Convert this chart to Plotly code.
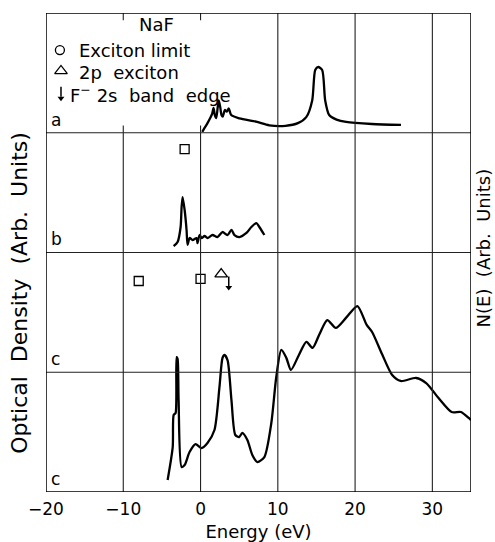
import plotly.graph_objects as go

# Spectrum a (top panel, baseline 3)
energy_a = [0.22, 0.52, 0.90, 1.25, 1.51, 1.68, 1.85, 2.03, 2.23, 2.36, 2.54, 2.71, 2.88, 3.14,
            3.39, 3.65, 3.96, 5.03, 7.19, 8.9, 11.0, 12.6, 13.68, 14.45, 14.84, 15.23, 15.74,
            16.13, 16.65, 17.6, 18.84, 22.19, 25.94]
od_a = [3.008, 3.04, 3.08, 3.123, 3.16, 3.207, 3.148, 3.123, 3.217, 3.27, 3.217, 3.148, 3.134,
        3.19, 3.176, 3.204, 3.148, 3.12, 3.092, 3.062, 3.058, 3.08, 3.13, 3.27, 3.524, 3.549,
        3.524, 3.27, 3.148, 3.11, 3.09, 3.073, 3.065]

# Spectrum b (second panel, baseline 2)
energy_b = [-3.48, -2.97, -2.58, -2.45, -2.32, -2.06, -1.81, -1.68, -1.42, -1.03, -0.52, -0.39,
            -0.13, 0.13, 0.52, 0.90, 1.55, 2.19, 2.84, 3.48, 4.0, 4.39, 5.03, 5.94, 6.58, 7.23,
            7.61, 8.26]
od_b = [2.054, 2.088, 2.213, 2.38, 2.463, 2.355, 2.188, 2.063, 2.121, 2.104, 2.121, 2.079,
        2.146, 2.121, 2.138, 2.121, 2.146, 2.129, 2.171, 2.146, 2.188, 2.146, 2.129, 2.163,
        2.213, 2.246, 2.213, 2.146]

# Spectrum c (lower two panels, continuous)
energy_c = [-4.26, -3.6, -3.48, -3.23, -3.1, -2.97, -2.84, -2.45, -2.06, -1.42, -0.65, 0.13,
            0.9, 1.8, 2.45, 2.84, 3.1, 3.5, 4.0, 4.5, 5.0, 5.4, 6.06, 6.7, 7.35, 8.26, 9.16,
            9.8, 10.45, 11.1, 11.7, 12.7, 13.7, 14.5, 15.4, 16.4, 17.5, 18.9, 20.3, 21.5, 22.2,
            23.5, 24.8, 25.9, 27.9, 29.2, 30.8, 32.5, 33.7, 34.7, 35.0]
ne_c = [0.10, 0.376, 0.643, 0.66, 1.127, 1.11, 0.768, 0.209, 0.225, 0.334, 0.40, 0.367,
        0.409, 0.518, 0.877, 1.119, 1.144, 1.10, 0.768, 0.476, 0.459, 0.493, 0.434, 0.309,
        0.25, 0.292, 0.576, 0.96, 1.186, 1.12, 1.019, 1.14, 1.253, 1.203, 1.32, 1.436, 1.37,
        1.46, 1.553, 1.395, 1.336, 1.15, 0.977, 0.927, 0.952, 0.91, 0.785, 0.668, 0.668,
        0.618, 0.60]

# Reference points
square_e = [-2.06, -8.0, 0.0]
square_y = [2.864, 1.762, 1.779]
triangle_e = [2.67]
triangle_y = [1.82]
arrow_e = [3.65]
arrow_top = [1.80]
arrow_tip = [1.69]

panel_labels = ["a", "b", "c", "c"]
panel_bases = [3, 2, 1, 0]
x_ticks = [-20, -10, 0, 10, 20, 30]

FONT = "DejaVu Sans"
INK = "black"
GRID = "#222222"

fig = go.Figure()

curve_style = dict(color=INK, width=2.3, shape="spline", smoothing=0.7)
fig.add_trace(go.Scatter(x=energy_a, y=od_a, mode="lines", line=curve_style))
fig.add_trace(go.Scatter(x=energy_b, y=od_b, mode="lines", line=curve_style))
fig.add_trace(go.Scatter(x=energy_c, y=ne_c, mode="lines", line=curve_style))

fig.add_trace(go.Scatter(x=square_e, y=square_y, mode="markers",
                         marker=dict(symbol="square-open", size=9, color=INK,
                                     line=dict(width=1.3, color=INK))))
fig.add_trace(go.Scatter(x=triangle_e, y=triangle_y, mode="markers",
                         marker=dict(symbol="triangle-up-open", size=11, color=INK,
                                     line=dict(width=1.3, color=INK))))


def down_arrow(x, y_top, y_tip):
    """Vertical stem with a filled head pointing down."""
    fig.add_trace(go.Scatter(x=[x, x], y=[y_top, y_tip + 0.03], mode="lines",
                             line=dict(color=INK, width=1.5)))
    fig.add_trace(go.Scatter(x=[x], y=[y_tip + 0.018], mode="markers",
                             marker=dict(symbol="triangle-down", size=6, color=INK)))


for e, top, tip in zip(arrow_e, arrow_top, arrow_tip):
    down_arrow(e, top, tip)

# Key in the top panel
fig.add_trace(go.Scatter(x=[-18.2], y=[3.69], mode="markers",
                         marker=dict(symbol="circle-open", size=9, color=INK,
                                     line=dict(width=1.3, color=INK))))
fig.add_trace(go.Scatter(x=[-18.06], y=[3.516], mode="markers",
                         marker=dict(symbol="triangle-up-open", size=11, color=INK,
                                     line=dict(width=1.3, color=INK))))
down_arrow(-18.06, 3.385, 3.27)

key_font = dict(family=FONT, size=18, color=INK)
fig.add_annotation(x=-5.68, y=3.90, text="NaF", showarrow=False, font=key_font,
                   xanchor="center", yanchor="middle")
fig.add_annotation(x=-16.0, y=3.69, text="Exciton limit", showarrow=False, font=key_font,
                   xanchor="left", yanchor="middle")
fig.add_annotation(x=-16.0, y=3.50, text="2p  exciton", showarrow=False, font=key_font,
                   xanchor="left", yanchor="middle")
fig.add_annotation(x=-17.16, y=3.32, text="F<sup>−</sup> 2s  band  edge", showarrow=False,
                   font=key_font, xanchor="left", yanchor="middle")

# Panel letters
for lab, base in zip(panel_labels, panel_bases):
    fig.add_annotation(x=-19.55, y=base + 0.01, text=lab, showarrow=False,
                       font=dict(family=FONT, size=17, color=INK),
                       xanchor="left", yanchor="bottom")

# Grid: panel dividers and vertical energy lines
shapes = []
for base in panel_bases[:-1]:
    shapes.append(dict(type="line", xref="x", yref="y", x0=-20, x1=35, y0=base, y1=base,
                       line=dict(color=GRID, width=1.2)))
for t in x_ticks[1:]:
    top = 4 if t >= 10 else 3
    shapes.append(dict(type="line", xref="x", yref="y", x0=t, x1=t, y0=0, y1=top,
                       line=dict(color=GRID, width=1.1)))
    if t < 10:
        shapes.append(dict(type="line", xref="x", yref="y", x0=t, x1=t, y0=3.94, y1=4,
                           line=dict(color=GRID, width=1.1)))
        shapes.append(dict(type="line", xref="x", yref="y", x0=t, x1=t, y0=3, y1=3.06,
                           line=dict(color=GRID, width=1.1)))
shapes.append(dict(type="rect", xref="x", yref="y", x0=-20, x1=35, y0=0, y1=4,
                   line=dict(color=INK, width=1.5)))

fig.update_layout(
    width=495, height=542,
    margin=dict(l=46, r=24, t=13, b=50),
    paper_bgcolor="white", plot_bgcolor="white",
    showlegend=False,
    shapes=shapes,
    font=dict(family=FONT, color=INK),
)
fig.update_xaxes(range=[-20, 35], tickvals=x_ticks,
                 ticktext=[str(v).replace("-", "−") for v in x_ticks],
                 showgrid=False, zeroline=False, showline=False, ticks="",
                 ticklabelstandoff=5, automargin=False,
                 tickfont=dict(family=FONT, size=17, color=INK),
                 title=dict(text="Energy (eV)", font=dict(family=FONT, size=18, color=INK),
                            standoff=8))
fig.update_yaxes(range=[0, 4], showgrid=False, zeroline=False, showline=False,
                 showticklabels=False, ticks="", automargin=False)

fig.add_annotation(xref="paper", yref="paper", x=-0.062, y=0.415,
                   text="Optical  Density  (Arb.  Units)", textangle=-90, showarrow=False,
                   font=dict(family=FONT, size=22, color=INK), xanchor="center", yanchor="middle")
fig.add_annotation(xref="paper", yref="paper", x=1.03, y=0.51,
                   text="N(E)  (Arb.  Units)", textangle=-90, showarrow=False,
                   font=dict(family=FONT, size=18, color=INK), xanchor="center", yanchor="middle")

fig.write_html("out.html")
